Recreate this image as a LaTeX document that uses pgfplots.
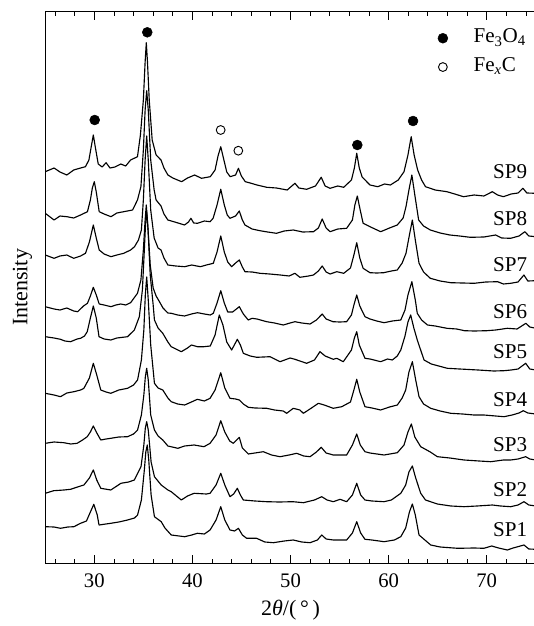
\documentclass[border=0pt]{standalone}
\usepackage{fontspec}
\setmainfont{Liberation Serif}
\usepackage{pgfplots}
\pgfplotsset{compat=1.18}

\pgfplotsset{
  curve/.style={black, line width=0.85pt, line join=round, forget plot},
}

\begin{document}
\begin{tikzpicture}
\begin{axis}[
  scale only axis,
  width=367.9pt, height=413.25pt,
  xmin=25, xmax=75, ymin=0, ymax=551,
  font=\fontsize{15.8}{18}\selectfont,
  xtick={30,40,...,70},
  minor xtick={26,28,...,74},
  ytick=\empty,
  minor ytick={0,55.1,...,551},
  tick align=inside,
  xtick pos=both, ytick pos=left,
  major tick length=6pt, minor tick length=3.3pt,
  axis line style={line width=0.75pt},
  tick style={line width=0.6pt, black},
  /pgf/number format/assume math mode=true,
  tick label style={font=\fontsize{15.5}{18}\selectfont},
  xticklabel style={yshift=-4.6pt},
  xlabel={2\textit{θ}/(\,°\,)},
  ylabel={Intensity},
  every axis x label/.style={at={(axis description cs:0.5,0)}, yshift=-35pt, anchor=center, font=\fontsize{16.5}{19}\selectfont},
  every axis y label/.style={at={(axis description cs:0,0.5)}, xshift=-17pt, rotate=90, anchor=center, font=\fontsize{16.5}{19}\selectfont},
  legend cell align=left,
  legend style={draw=none, fill=none, at={(axis description cs:0.800,0.979)}, anchor=north west,
    inner sep=0pt, row sep=0pt, font=\fontsize{15.8}{18}\selectfont,
    nodes={inner sep=4.3pt, text height=10pt, text depth=3pt},
    /tikz/every odd column/.append style={column sep=15pt}},
]

% SP9
\addplot[curve] coordinates {(25.0,391.3) (25.9,395) (26.5,391) (27.2,388) (27.9,393) (28.6,395) (29.1,396.3) (29.45,403) (29.7,417) (29.9,428) (30.1,416) (30.4,399) (30.8,396) (31.2,400.3) (31.6,395) (32.1,396) (32.7,399) (33.2,397) (33.7,403) (34.4,406.3) (34.7,428) (35.0,463) (35.18,501) (35.3,520.3) (35.42,501) (35.6,463) (35.9,423) (36.3,408) (36.8,403) (37.1,395) (37.5,388) (38.0,385) (38.9,381.3) (39.5,385) (40.23,388) (40.92,384.7) (41.82,386.3) (42.31,393) (42.61,407) (42.89,416.3) (43.21,403) (43.5,391) (43.85,386.3) (44.4,388) (44.69,394.7) (44.99,387) (45.39,381.3) (45.89,380) (46.58,378) (47.57,375.7) (48.57,375) (49.66,373) (50.45,379.7) (50.85,375) (51.64,373.7) (52.54,377) (53.13,385.7) (53.53,377) (54.03,374.7) (54.82,377) (55.42,375.7) (56.21,383) (56.51,395) (56.75,409.7) (57.01,395) (57.3,386) (58.1,378) (58.89,376.3) (59.59,379) (60.18,378) (60.98,383) (61.57,391.3) (61.97,408) (62.3,426.3) (62.6,408) (62.96,393) (63.36,383) (63.76,376.3) (64.75,373) (65.94,371.3) (66.74,369) (67.63,366.3) (68.72,368) (69.71,367) (70.57,371.3) (71.11,368) (71.7,366.3) (72.49,369) (73.19,370) (73.69,374.7) (74.09,370) (75,369.7)};

% SP8
\addplot[curve] coordinates {(25.0,349.7) (25.9,343) (26.5,347) (27.2,346.3) (27.9,345) (28.6,348) (29.3,351.3) (29.6,363) (29.8,375) (30.0,381.3) (30.2,371) (30.5,351.3) (31.0,349) (31.7,346.3) (32.3,350) (33.0,351.3) (33.9,353) (34.4,363) (34.75,376.3) (35.0,413) (35.18,453) (35.34,472.3) (35.5,453) (35.75,403) (36.1,373) (36.3,363) (36.8,357) (37.1,349) (37.5,343) (38.2,341) (39.2,338) (39.6,341) (39.85,344.7) (40.13,340) (40.52,339.7) (41.22,342) (41.8,341.3) (42.11,344.7) (42.51,358) (42.89,373.7) (43.25,358) (43.55,348) (43.83,344.7) (44.4,347) (44.78,352) (45.09,343) (45.36,338) (46.08,334) (46.88,332.3) (47.67,331) (48.57,329.7) (49.36,332) (50.28,333) (51.25,331) (52.34,331.3) (52.84,335) (53.23,344) (53.63,335) (54.03,331.3) (54.82,334) (55.72,334.7) (56.31,343) (56.56,358) (56.81,367) (57.06,355) (57.4,339.7) (58.1,336.3) (59.19,331.3) (60.09,335) (60.88,338) (61.48,345) (61.77,356.3) (62.07,373) (62.37,388) (62.67,368) (63.06,343) (63.56,337) (64.25,333) (65.25,330) (66.24,328) (67.24,327) (68.32,325.7) (69.71,326) (70.91,328) (71.51,325) (72.44,324.7) (73.29,327) (73.89,331.3) (74.29,327) (75,326.3)};

% SP7
\addplot[curve] coordinates {(25.0,308) (25.9,304.7) (26.5,307) (27.2,308) (27.9,304.7) (28.6,307) (29.1,309.7) (29.5,321) (29.9,338) (30.2,325) (30.5,313) (31.0,309) (31.7,306.3) (32.3,308) (33.0,309.7) (33.7,313) (34.1,316.3) (34.5,323) (34.8,333) (35.0,363) (35.18,403) (35.34,427) (35.5,403) (35.75,353) (36.1,325) (36.5,315) (36.8,313) (37.1,305) (37.5,298) (38.3,297) (39.2,296.3) (39.93,298) (40.82,296.3) (41.42,298) (42.13,299.7) (42.51,311) (42.89,327) (43.25,311) (43.6,301) (44.0,296.3) (44.4,300) (44.78,303) (45.09,296) (45.36,291.3) (46.08,291) (46.88,289.7) (47.87,289) (48.96,288) (49.86,287) (50.45,289.7) (50.95,285.7) (51.84,287) (52.34,288) (52.84,292) (53.23,297) (53.63,291) (54.03,289) (54.72,291.3) (55.42,289.7) (56.11,295) (56.46,308) (56.75,320.3) (57.06,305) (57.4,294.7) (58.1,290.3) (58.79,290) (59.49,290.3) (60.28,292) (60.88,293) (61.38,300) (61.77,309.7) (62.12,328) (62.42,343) (62.72,323) (63.1,299.7) (63.56,291) (64.25,284.7) (65.25,282) (66.34,280.3) (67.53,280) (68.72,279.7) (69.91,281) (71.11,281.3) (71.7,279) (72.44,279.7) (73.19,281) (73.79,288) (74.19,282) (75,282.3)};

% SP6
\addplot[curve] coordinates {(25.0,256.3) (25.9,254) (26.5,253) (27.2,255) (27.9,252) (28.3,251.3) (28.9,257) (29.3,259.7) (29.6,267) (29.9,275.7) (30.2,268) (30.5,259) (31.0,258) (31.7,256.3) (32.2,258) (32.7,259) (33.2,258) (33.7,260.3) (34.4,269.7) (34.75,283) (35.0,313) (35.18,343) (35.3,358) (35.45,338) (35.7,298) (36.0,275) (36.3,267) (36.64,261.3) (37.0,255) (37.5,250) (37.84,249.7) (38.5,248) (39.2,247) (39.9,249) (40.52,250.3) (41.22,249) (41.82,248) (42.13,249.7) (42.51,260) (42.89,272.3) (43.25,260) (43.6,251) (44.1,251) (44.78,256.3) (45.19,249) (45.69,243) (46.08,244.7) (46.58,244) (47.57,241.3) (48.37,240) (49.26,238) (49.96,240) (50.45,241.3) (51.15,240) (51.99,239) (52.64,243) (53.23,249) (53.63,244) (54.33,241.3) (55.02,241) (55.72,241.3) (56.21,248) (56.46,258) (56.75,268) (57.06,257) (57.59,246.3) (58.1,244) (58.79,242) (59.53,240.3) (60.38,242) (61.24,243) (61.67,253) (61.97,268) (62.37,281.3) (62.72,263) (62.92,249.7) (63.36,243) (63.96,238) (64.75,237) (65.94,234.7) (66.94,234) (67.73,232.3) (68.72,232) (70.01,232.3) (70.91,233) (72.1,234.7) (73.09,234) (73.99,239.7) (74.39,236) (75,234.7)};

% SP5
\addplot[curve] coordinates {(25.0,226.3) (25.9,225) (26.55,223.7) (27.0,222) (27.58,221.3) (28.25,224) (28.6,224.7) (29.0,227) (29.28,231.3) (29.6,245) (29.9,257) (30.2,245) (30.48,226.3) (31.0,224) (31.68,223) (32.3,225) (33.39,226.3) (34.08,233) (34.59,246.3) (34.9,273) (35.1,313) (35.22,338) (35.34,351) (35.48,333) (35.7,288) (36.0,258) (36.13,243) (36.5,235) (36.98,229.7) (37.5,221) (37.84,216.3) (38.87,211.3) (39.5,215) (39.9,218) (40.52,216.3) (41.18,216.3) (41.82,217) (42.31,228) (42.74,248) (43.11,238) (43.5,221) (44.0,213) (44.58,223.7) (44.89,218) (45.19,209.7) (45.89,207) (46.55,205.7) (47.91,206.3) (48.93,201.3) (49.96,205) (50.45,203.7) (51.64,199.7) (52.44,203) (53.0,211.3) (53.53,207) (54.36,203.7) (54.71,204.7) (55.38,201.3) (56.21,213) (56.51,225) (56.75,231.3) (57.01,218) (57.59,204.7) (58.1,204) (59.19,201.3) (59.89,204) (60.38,203) (60.88,207) (61.24,213) (61.67,227) (61.97,241) (62.25,248) (62.57,235) (62.92,223) (63.61,203) (64.35,199) (65.98,194.7) (67.24,194) (69.12,193) (70.71,192) (71.76,192.3) (72.49,193) (73.19,194) (73.97,199.7) (74.39,194) (75,193)};

% SP4
\addplot[curve] coordinates {(25.0,169.7) (25.9,168) (26.55,166.3) (27.2,170) (27.92,171.3) (28.6,173) (28.94,174.7) (29.5,185) (29.9,199.7) (30.25,188) (30.66,173) (31.2,171) (31.68,169.7) (32.5,173) (33.39,174.7) (34.0,178) (34.41,183) (34.8,203) (35.05,233) (35.2,268) (35.34,286) (35.5,263) (35.75,218) (36.13,179.7) (36.5,175) (36.98,173) (37.5,165) (37.84,161.3) (38.5,159) (39.21,158) (39.9,161) (40.5,163.7) (41.22,162) (41.8,164.7) (42.31,173) (42.89,190.3) (43.3,175) (43.83,164.7) (44.4,164) (44.78,163) (45.19,159) (45.7,155.7) (46.38,155) (47.57,154.7) (48.37,153) (49.26,152) (49.61,149.7) (50.28,154.7) (50.95,153) (51.31,149.7) (52.14,155) (52.84,159.7) (53.43,158) (54.36,154.7) (55.22,156.3) (56.11,161) (56.46,173) (56.75,183.7) (57.06,171) (57.59,156.3) (58.3,155) (59.19,153) (60.09,156) (60.89,158) (61.38,165) (61.74,173) (62.07,191) (62.42,201.3) (62.76,183) (63.1,166.3) (63.56,159) (64.29,154.7) (65.25,152) (66.33,149.7) (67.53,149) (68.7,148) (69.71,148) (70.91,147) (71.76,146.3) (72.59,148) (73.29,150) (73.73,152.3) (74.19,150) (75,149)};

% SP3
\addplot[curve] coordinates {(25.0,119.7) (25.9,121) (26.89,120.3) (27.6,119) (28.25,119.7) (28.8,123) (29.28,126.3) (29.6,131) (29.9,137) (30.2,131) (30.66,123) (31.2,124) (31.68,124.7) (32.5,126) (33.39,126.3) (34.0,129) (34.41,133) (34.8,148) (35.05,168) (35.2,186) (35.34,194.7) (35.5,183) (35.75,148) (36.13,133) (36.5,127) (36.98,123) (37.5,117) (38.52,114.7) (39.2,117) (40.17,118) (41.18,116.3) (41.8,119.7) (42.41,128) (42.89,142.3) (43.3,131) (43.8,122) (44.17,119.7) (44.78,125.7) (45.09,115) (45.7,109) (47.23,111.3) (48.07,108) (48.93,106.3) (49.86,108) (50.63,109.7) (51.35,107) (51.99,106.3) (52.64,111) (53.13,115.7) (53.63,110) (54.36,108) (55.72,108) (56.31,118) (56.75,129) (57.11,118) (57.59,111.3) (58.1,110) (59.53,108) (60.89,110.3) (61.57,118) (61.97,131) (62.32,139) (62.67,126) (63.27,116.3) (64.25,111) (64.97,106.3) (66.24,105) (67.69,103) (69.22,102) (70.41,101.3) (71.7,103) (72.44,103) (73.19,104) (73.97,106.3) (74.39,104) (75,103)};

% SP2
\addplot[curve] coordinates {(25.0,69.7) (25.86,72.3) (26.9,73) (27.58,73.7) (28.6,77) (28.94,78) (29.5,85) (29.9,93) (30.25,83) (30.66,74.7) (31.68,73) (32.3,77) (32.71,79.7) (33.5,81) (34.08,83) (34.76,96.3) (35.05,118) (35.2,135) (35.34,141.3) (35.5,133) (35.79,101) (36.13,86.3) (36.82,78) (37.5,73) (37.84,71.3) (38.87,63) (39.5,67) (40.17,69.7) (41.42,69) (41.8,69.7) (42.41,78) (42.89,89.7) (43.3,78) (43.83,66.3) (44.2,69) (44.58,74.7) (44.89,68) (45.19,63) (46.38,62) (47.57,61.3) (48.86,61) (50.25,61.3) (51.31,60.3) (52.44,63) (53.18,66.3) (53.73,63) (54.36,61.3) (55.05,63.7) (55.72,61.3) (56.31,68) (56.75,79.7) (57.15,68) (57.59,63) (58.3,62) (59.53,61.3) (60.28,63) (61.24,69.7) (61.74,78) (62.07,91) (62.42,97) (62.76,85) (63.27,69.7) (63.76,63) (64.97,59) (66.34,57) (67.69,56.3) (69.02,57) (70.57,58) (71.41,57) (72.44,56.3) (73.19,58) (73.8,61.3) (74.29,58) (75,57)};

% SP1
\addplot[curve] coordinates {(25.0,36.3) (25.9,36) (26.55,34.7) (27.3,36) (27.92,36.3) (28.6,39.7) (29.2,42) (29.6,51) (29.95,58.7) (30.3,48) (30.48,38) (31.68,39.7) (32.5,41) (33.39,43) (34.1,45) (34.41,48) (34.8,63) (35.1,93) (35.25,111) (35.4,118) (35.55,103) (35.79,68) (36.13,46.3) (36.82,41.3) (37.2,35) (37.84,28) (39.21,26.3) (39.93,28) (40.5,29.7) (41.22,29) (41.8,33) (42.41,43) (42.89,56.3) (43.3,43) (43.83,33) (44.3,32) (44.69,34.7) (45.09,28) (45.53,24.7) (46.55,24.7) (47.38,21) (48.25,20.3) (49.36,22) (50.28,23) (51.15,21) (51.99,20.3) (52.74,23) (53.18,28) (53.63,24) (54.36,23) (55.72,23) (56.31,30) (56.75,41.3) (57.15,30) (57.59,23.7) (58.3,23) (59.53,21.3) (60.58,23) (61.24,26.3) (61.74,35) (62.12,51) (62.42,59) (62.72,48) (63.1,28) (64.29,18) (65.25,16) (67.04,14.7) (68.72,15) (69.71,14.7) (70.51,17) (71.21,15) (72.1,13) (72.69,15) (73.8,18) (74.29,14) (75,13.7)};

% phase markers
\addplot[only marks, mark=*, mark size=3.7pt, black, mark options={fill=black}]
  coordinates {(30.04,443) (35.40,530.7) (56.81,418) (62.49,442)};
\addlegendentry{Fe\textsubscript{3}O\textsubscript{4}}
\addplot[only marks, mark=o, mark size=3.3pt, black, mark options={line width=0.7pt}]
  coordinates {(42.88,433) (44.68,412.3)};
\addlegendentry{Fe\textsubscript{\textit{x}}C}

\node[anchor=east, inner sep=0pt] at (axis cs:74.14,391.3) {SP9};
\node[anchor=east, inner sep=0pt] at (axis cs:74.14,344.7) {SP8};
\node[anchor=east, inner sep=0pt] at (axis cs:74.14,298) {SP7};
\node[anchor=east, inner sep=0pt] at (axis cs:74.14,251.3) {SP6};
\node[anchor=east, inner sep=0pt] at (axis cs:74.14,211.3) {SP5};
\node[anchor=east, inner sep=0pt] at (axis cs:74.14,163) {SP4};
\node[anchor=east, inner sep=0pt] at (axis cs:74.14,118) {SP3};
\node[anchor=east, inner sep=0pt] at (axis cs:74.14,73) {SP2};
\node[anchor=east, inner sep=0pt] at (axis cs:74.14,33) {SP1};
\end{axis}
\pgfresetboundingbox
\path (-33.94pt,-47.25pt) rectangle (366.56pt,422.25pt);
\end{tikzpicture}
\end{document}
